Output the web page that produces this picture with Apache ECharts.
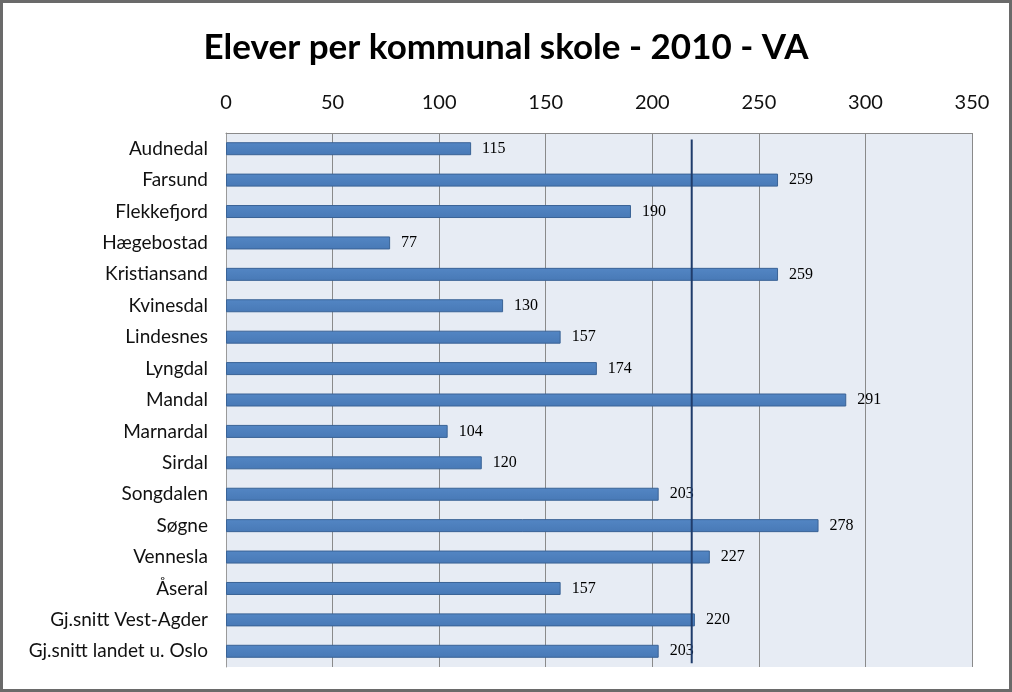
<!DOCTYPE html>
<html><head><meta charset="utf-8">
<script src="https://cdn.jsdelivr.net/npm/echarts@6/dist/echarts.min.js"></script>
<style>
html,body{margin:0;padding:0;background:#fff;}
#c{width:1012px;height:692px;box-sizing:border-box;border:3px solid #6a6a6a;}
</style></head><body>
<div id="c"></div>
<script>
const categories = ["Audnedal","Farsund","Flekkefjord","Hægebostad","Kristiansand","Kvinesdal","Lindesnes","Lyngdal","Mandal","Marnardal","Sirdal","Songdalen","Søgne","Vennesla","Åseral","Gj.snitt Vest-Agder","Gj.snitt landet u. Oslo"];
const values = [115,259,190,77,259,130,157,174,291,104,120,203,278,227,157,220,203];
const referenceLine = 218.5;
const axisTicks = [0,50,100,150,200,250,300,350];

const chart = echarts.init(document.getElementById('c'), null, {renderer:'canvas'});
chart.setOption({
  animation:false,
  backgroundColor:'transparent',
  title:{text:'Elever per kommunal skole - 2010 - VA',left:'center',top:22,
    textStyle:{fontFamily:'Lato,"Open Sans",sans-serif',fontWeight:'bold',fontSize:35,color:'#000'}},
  grid:{left:223,right:37,top:130,bottom:22,backgroundColor:'#E7ECF4',show:true,borderWidth:0},
  xAxis:{type:'value',position:'top',min:axisTicks[0],max:axisTicks[axisTicks.length-1],interval:50,
    axisLine:{show:true,lineStyle:{color:'#8a8a8a',width:1}},axisTick:{show:false},
    splitLine:{show:true,lineStyle:{color:'#8a8a8a',width:1}},
    axisLabel:{margin:20,fontFamily:'Lato,"Open Sans",sans-serif',fontSize:20,color:'#111'}},
  yAxis:[{type:'category',inverse:true,data:categories,
    axisLine:{show:true,lineStyle:{color:'#9a9a9a'}},axisTick:{show:false},
    axisLabel:{margin:18,fontFamily:'Lato,"Open Sans",sans-serif',fontSize:19,color:'#111'}},
    {type:'value',min:0,max:1,inverse:true,show:false}],
  series:[{type:'bar',data:values,barWidth:13,
    itemStyle:{color:new echarts.graphic.LinearGradient(0,0,0,1,[{offset:0,color:'#5386C4'},{offset:1,color:'#4879B6'}]),borderColor:'#3A6396',borderWidth:1},
    label:{show:true,position:'right',distance:11,fontFamily:'"Liberation Serif","DejaVu Serif",serif',fontSize:16,color:'#000'}},
   {type:'line',yAxisIndex:1,symbol:'none',silent:true,
    lineStyle:{color:'#1F3C6B',width:2},
    data:[[referenceLine,0.012],[referenceLine,0.993]]}
  ]
});
</script></body></html>
